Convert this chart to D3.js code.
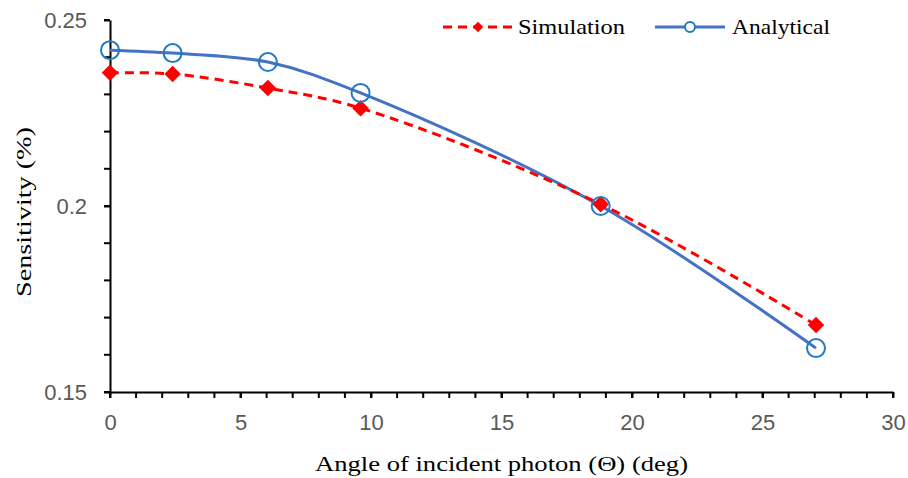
<!DOCTYPE html>
<html>
<head>
<meta charset="utf-8">
<script src="https://cdn.jsdelivr.net/npm/d3@7"></script>
<style>
  body { margin: 0; background: #fff; }
  svg { display: block; }
</style>
</head>
<body>
<div id="chart"></div>
<script>
// Data
const angles = [0, 2.4, 6.05, 9.6, 18.8, 27.05];
const simulation = [0.2358, 0.2355, 0.2317, 0.2263, 0.2005, 0.168];
const analytical = [0.2419, 0.2411, 0.2387, 0.2304, 0.2, 0.1618];
const xTicks = [0, 5, 10, 15, 20, 25, 30];
const yTicks = [0.15, 0.2, 0.25];
const yTickLabels = ['0.15', '0.2', '0.25'];

const width = 908, height = 478;
const svg = d3.select('#chart').append('svg')
    .attr('width', width)
    .attr('height', height);

const x = d3.scaleLinear().domain([0, 30]).range([110, 893]);
const y = d3.scaleLinear().domain([0.15, 0.25]).range([392, 20]);

const serif = '"Liberation Serif", "Times New Roman", serif';
const sans = '"Liberation Sans", Arial, sans-serif';

// minor ticks
const xMinor = d3.range(0, 31, 1);
const yMinor = d3.range(0.15, 0.2501, 0.01);

svg.append('g')
    .selectAll('line')
    .data(xMinor)
    .enter().append('line')
    .attr('x1', d => x(d)).attr('x2', d => x(d))
    .attr('y1', 392).attr('y2', 398)
    .attr('stroke', '#000').attr('stroke-width', 2);

svg.append('g')
    .selectAll('line')
    .data(yMinor)
    .enter().append('line')
    .attr('x1', 104).attr('x2', 110)
    .attr('y1', d => y(d)).attr('y2', d => y(d))
    .attr('stroke', '#000').attr('stroke-width', 2);

// axes
const xAxis = svg.append('g')
    .attr('transform', 'translate(0,392)')
    .call(d3.axisBottom(x).tickValues(xTicks).tickSize(6).tickSizeOuter(0).tickPadding(16));
const yAxis = svg.append('g')
    .attr('transform', 'translate(110,0)')
    .call(d3.axisLeft(y).tickValues(yTicks).tickSize(6).tickSizeOuter(0).tickPadding(17)
        .tickFormat((d, i) => yTickLabels[i]));

[xAxis, yAxis].forEach(g => {
    g.attr('font-size', 22).attr('font-family', sans);
    g.select('.domain').attr('stroke', '#000').attr('stroke-width', 2);
    g.selectAll('.tick line').attr('stroke', '#000').attr('stroke-width', 2);
    g.selectAll('.tick text').attr('fill', '#595959');
});
yAxis.selectAll('.tick text').attr('dy', '0.36em');

// lines
const line = d3.line()
    .x(d => x(d[0]))
    .y(d => y(d[1]))
    .curve(d3.curveCatmullRom.alpha(0.5));

const simPts = angles.map((a, i) => [a, simulation[i]]);
const anaPts = angles.map((a, i) => [a, analytical[i]]);

svg.append('path')
    .datum(anaPts)
    .attr('d', line)
    .attr('fill', 'none')
    .attr('stroke', '#4472C4')
    .attr('stroke-width', 3);

svg.append('path')
    .datum(simPts)
    .attr('d', line)
    .attr('fill', 'none')
    .attr('stroke', '#FF0000')
    .attr('stroke-width', 3)
    .attr('stroke-dasharray', '9,6');

const diamond = d3.symbol().type(d3.symbolDiamond2).size(175);

svg.append('g')
    .selectAll('path')
    .data(simPts)
    .enter().append('path')
    .attr('d', diamond)
    .attr('transform', d => `translate(${x(d[0])},${y(d[1])})`)
    .attr('fill', '#FF0000');

svg.append('g')
    .selectAll('circle')
    .data(anaPts)
    .enter().append('circle')
    .attr('cx', d => x(d[0]))
    .attr('cy', d => y(d[1]))
    .attr('r', 9)
    .attr('fill', 'none')
    .attr('stroke', '#1F7BC9')
    .attr('stroke-width', 2);

// axis titles
svg.append('text')
    .attr('x', 315).attr('y', 471)
    .attr('font-family', serif)
    .attr('font-size', 22)
    .attr('textLength', 373)
    .attr('lengthAdjust', 'spacingAndGlyphs')
    .attr('fill', '#000')
    .text('Angle of incident photon (\u0398) (deg)');

svg.append('text')
    .attr('transform', 'rotate(-90)')
    .attr('x', -297).attr('y', 31)
    .attr('font-family', serif)
    .attr('font-size', 22)
    .attr('textLength', 170)
    .attr('lengthAdjust', 'spacingAndGlyphs')
    .attr('fill', '#000')
    .text('Sensitivity (%)');

// legend
const legend = svg.append('g');
legend.append('line')
    .attr('x1', 443).attr('x2', 513).attr('y1', 27).attr('y2', 27)
    .attr('stroke', '#FF0000').attr('stroke-width', 3)
    .attr('stroke-dasharray', '9,6');
legend.append('path')
    .attr('d', d3.symbol().type(d3.symbolDiamond2).size(70))
    .attr('transform', 'translate(478,27)')
    .attr('fill', '#FF0000');
legend.append('text')
    .attr('x', 518).attr('y', 34)
    .attr('font-family', serif)
    .attr('font-size', 21)
    .attr('textLength', 107)
    .attr('lengthAdjust', 'spacingAndGlyphs')
    .text('Simulation');

legend.append('line')
    .attr('x1', 655).attr('x2', 725).attr('y1', 27).attr('y2', 27)
    .attr('stroke', '#4472C4').attr('stroke-width', 3);
legend.append('circle')
    .attr('cx', 690).attr('cy', 27).attr('r', 5)
    .attr('fill', '#fff')
    .attr('stroke', '#1F7BC9').attr('stroke-width', 2);
legend.append('text')
    .attr('x', 732).attr('y', 34)
    .attr('font-family', serif)
    .attr('font-size', 21)
    .attr('textLength', 98)
    .attr('lengthAdjust', 'spacingAndGlyphs')
    .text('Analytical');
</script>
</body>
</html>
